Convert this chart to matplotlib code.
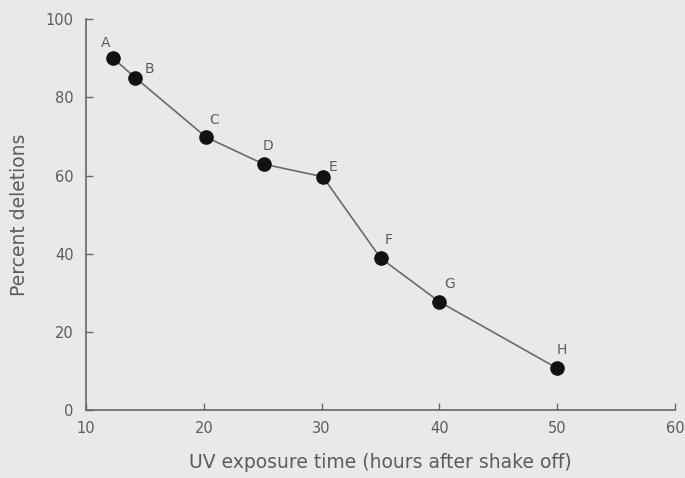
import matplotlib.pyplot as plt

# data
hours = [12.3, 14.2, 20.2, 25.1, 30.1, 35.0, 40.0, 50.0]
deletions = [90.0, 85.0, 69.8, 62.9, 59.7, 38.9, 27.7, 10.7]
labels = ['A', 'B', 'C', 'D', 'E', 'F', 'G', 'H']
# label offsets in points (dx, dy)
offsets = [(-5, 6), (10, 1), (6, 7), (3, 8), (7, 2), (6, 8), (7, 8), (3, 8)]

bg = '#e9e9e7'
grey = '#5c5c5c'

fig = plt.figure(figsize=(6.85, 4.78), dpi=100, facecolor=bg)
ax = fig.add_axes([0.1255, 0.142, 0.86, 0.818], facecolor=bg)

ax.plot(hours, deletions, color='#6a6a6a', lw=1.2, zorder=2)
ax.plot(hours, deletions, 'o', color='#111111', ms=9.5, zorder=3)
for x, y, s, (dx, dy) in zip(hours, deletions, labels, offsets):
    ax.annotate(s, (x, y), xytext=(dx, dy), textcoords='offset points',
                ha='center', va='bottom', fontsize=10, color=grey)

ax.set_xlim(10, 60)
ax.set_ylim(0, 100)
ax.set_xticks([10, 20, 30, 40, 50, 60])
ax.set_yticks([0, 20, 40, 60, 80, 100])
for side in ['top', 'right']:
    ax.spines[side].set_visible(False)
for side in ['left', 'bottom']:
    ax.spines[side].set_color('#666666')
    ax.spines[side].set_linewidth(1.2)
ax.tick_params(direction='in', length=5, width=1, color='#666666',
               labelcolor=grey, labelsize=10.5)
ax.tick_params(axis='x', pad=8)
ax.tick_params(axis='y', pad=9)

ax.set_xlabel('UV exposure time (hours after shake off)', fontsize=13.5,
              color=grey, labelpad=12)
ax.set_ylabel('Percent deletions', fontsize=13.5, color=grey, labelpad=12)

fig.savefig('out.png', dpi=100, facecolor=bg)
